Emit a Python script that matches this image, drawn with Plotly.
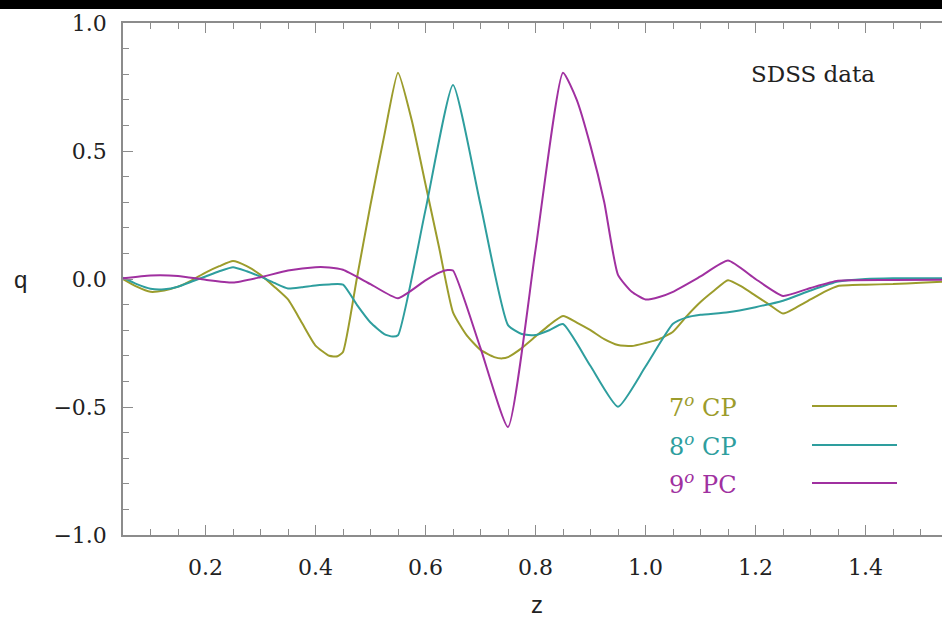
import plotly.graph_objects as go

# ---- data ----
z7 = [0.05, 0.075, 0.10, 0.125, 0.15, 0.175, 0.20, 0.225, 0.25, 0.275, 0.30, 0.325, 0.35, 0.375,
      0.40, 0.425, 0.44, 0.45, 0.475, 0.50, 0.525, 0.55, 0.575, 0.60, 0.625, 0.65, 0.675, 0.70,
      0.725, 0.74, 0.75, 0.775, 0.80, 0.825, 0.85, 0.875, 0.90, 0.925, 0.95, 0.975, 1.00, 1.025,
      1.05, 1.075, 1.10, 1.125, 1.15, 1.175, 1.20, 1.225, 1.25, 1.275, 1.30, 1.325, 1.35, 1.40,
      1.45, 1.50, 1.55]
q7 = [0.0, -0.03, -0.05, -0.045, -0.03, -0.005, 0.025, 0.05, 0.07, 0.05, 0.016, -0.03, -0.08, -0.17,
      -0.26, -0.30, -0.302, -0.285, 0.0, 0.29, 0.56, 0.806, 0.62, 0.37, 0.12, -0.13, -0.22, -0.277,
      -0.305, -0.31, -0.305, -0.27, -0.225, -0.18, -0.145, -0.17, -0.20, -0.235, -0.258, -0.262, -0.25, -0.235,
      -0.206, -0.145, -0.09, -0.045, -0.005, -0.03, -0.065, -0.10, -0.135, -0.11, -0.08, -0.05, -0.027, -0.022,
      -0.02, -0.015, -0.01]

z8 = [0.05, 0.075, 0.10, 0.125, 0.15, 0.175, 0.20, 0.225, 0.25, 0.275, 0.30, 0.325, 0.35, 0.375,
      0.40, 0.425, 0.45, 0.475, 0.50, 0.525, 0.54, 0.55, 0.60, 0.65, 0.70, 0.75, 0.775, 0.80, 0.825,
      0.85, 0.90, 0.95, 1.00, 1.05, 1.075, 1.10, 1.15, 1.20, 1.25, 1.30, 1.35, 1.40, 1.45, 1.55]
q8 = [0.005, -0.02, -0.038, -0.04, -0.03, -0.01, 0.01, 0.03, 0.046, 0.03, 0.009, -0.015, -0.037, -0.032,
      -0.025, -0.021, -0.022, -0.10, -0.17, -0.215, -0.225, -0.22, 0.27, 0.758, 0.29, -0.18, -0.215, -0.219, -0.20,
      -0.176, -0.34, -0.499, -0.342, -0.175, -0.15, -0.14, -0.13, -0.11, -0.085, -0.045, -0.01, 0.0, 0.003, 0.003]

z9 = [0.05, 0.10, 0.15, 0.20, 0.25, 0.30, 0.35, 0.40, 0.425, 0.45, 0.50, 0.55, 0.60, 0.625, 0.64,
      0.65, 0.70, 0.75, 0.80, 0.85, 0.875, 0.90, 0.925, 0.95, 0.975, 1.00, 1.025, 1.05, 1.10, 1.15,
      1.20, 1.25, 1.30, 1.35, 1.45, 1.55]
q9 = [0.003, 0.014, 0.012, -0.003, -0.014, 0.007, 0.033, 0.046, 0.045, 0.036, -0.02, -0.075, -0.005, 0.025, 0.035,
      0.033, -0.27, -0.578, 0.114, 0.806, 0.70, 0.52, 0.30, 0.016, -0.05, -0.08, -0.07, -0.05, 0.01, 0.072,
      0.0, -0.066, -0.035, -0.007, -0.004, -0.003]

series_z = [z7, z8, z9]
series_q = [q7, q8, q9]
labels = ["7<sup><i>o</i></sup> CP", "8<sup><i>o</i></sup> CP", "9<sup><i>o</i></sup> PC"]
colors = ["#9c9c2c", "#2e9e9e", "#a030a0"]

x_ticks = [0.2, 0.4, 0.6, 0.8, 1.0, 1.2, 1.4]
y_ticks = [-1.0, -0.5, 0.0, 0.5, 1.0]

W, H = 942, 623
ML, MT, MB, MR = 123, 23, 88, 0
PW = W - ML - MR
PH = H - MT - MB

fig = go.Figure()
for zs, qs, c, lab in zip(series_z, series_q, colors, labels):
    fig.add_trace(go.Scatter(x=zs, y=qs, mode="lines", name=lab,
                             line=dict(color=c, width=2, shape="spline", smoothing=0.5),
                             showlegend=False))

def px2paper(px, py):
    return (px - ML) / PW, (H - MB - py) / PH

serif = "DejaVu Serif"
sans = "Liberation Sans"
frame = "#8c8c8c"

fig.update_layout(
    width=W, height=H,
    margin=dict(l=ML, r=MR, t=MT, b=MB, pad=0),
    paper_bgcolor="white", plot_bgcolor="white",
    xaxis=dict(range=[0.05, 0.05 + PW / 550.0], showgrid=False, zeroline=False,
               showline=True, linecolor=frame, linewidth=1.5, mirror="ticks",
               ticks="inside", ticklen=10, tickwidth=1, tickcolor=frame,
               tickvals=x_ticks, ticktext=[f"{v:.1f}" for v in x_ticks],
               tickfont=dict(family=serif, size=22, color="#222"),
               ticklabelstandoff=12,
               minor=dict(dtick=0.05, tick0=0.0, ticks="inside", ticklen=6,
                          tickcolor=frame, tickwidth=1, showgrid=False)),
    yaxis=dict(range=[-1, 1], showgrid=False, zeroline=False,
               showline=True, linecolor=frame, linewidth=1.5, mirror=False,
               ticks="inside", ticklen=10, tickwidth=1, tickcolor=frame,
               tickvals=y_ticks, ticktext=[("\u2212" if v < 0 else "") + f"{abs(v):.1f}" for v in y_ticks],
               tickfont=dict(family=serif, size=22, color="#222"),
               ticklabelstandoff=10,
               minor=dict(dtick=0.1, tick0=0.0, ticks="inside", ticklen=6,
                          tickcolor=frame, tickwidth=1, showgrid=False)),
)

ann = []
x, y = px2paper(20, 279)
ann.append(dict(text="q", x=x, y=y, xref="paper", yref="paper", showarrow=False,
                font=dict(family=sans, size=24, color="#222"), xanchor="center", yanchor="middle"))
x, y = px2paper(537, 604)
ann.append(dict(text="z", x=x, y=y, xref="paper", yref="paper", showarrow=False,
                font=dict(family=sans, size=24, color="#222"), xanchor="center", yanchor="middle"))
x, y = px2paper(812.5, 74)
ann.append(dict(text="SDSS data", x=x, y=y, xref="paper", yref="paper", showarrow=False,
                font=dict(family=serif, size=23, color="#222"), xanchor="center", yanchor="middle"))

shapes = []
leg_y = [406, 445, 483]
for lab, c, ly in zip(labels, colors, leg_y):
    x, y = px2paper(667, ly)
    ann.append(dict(text=lab, x=x, y=y, xref="paper", yref="paper", showarrow=False,
                    font=dict(family=serif, size=24, color=c), xanchor="left", yanchor="middle"))
    x0, y0 = px2paper(812, ly)
    x1, _ = px2paper(897, ly)
    shapes.append(dict(type="line", xref="paper", yref="paper", x0=x0, x1=x1, y0=y0, y1=y0,
                       line=dict(color=c, width=2)))

_, yb0 = px2paper(0, 9)
_, yb1 = px2paper(0, 0)
shapes.append(dict(type="rect", xref="paper", yref="paper", x0=-ML / PW, x1=1.0, y0=yb0, y1=yb1,
                   fillcolor="black", line=dict(width=0), layer="above"))

fig.update_layout(annotations=ann, shapes=shapes)
fig.write_html("out.html")
